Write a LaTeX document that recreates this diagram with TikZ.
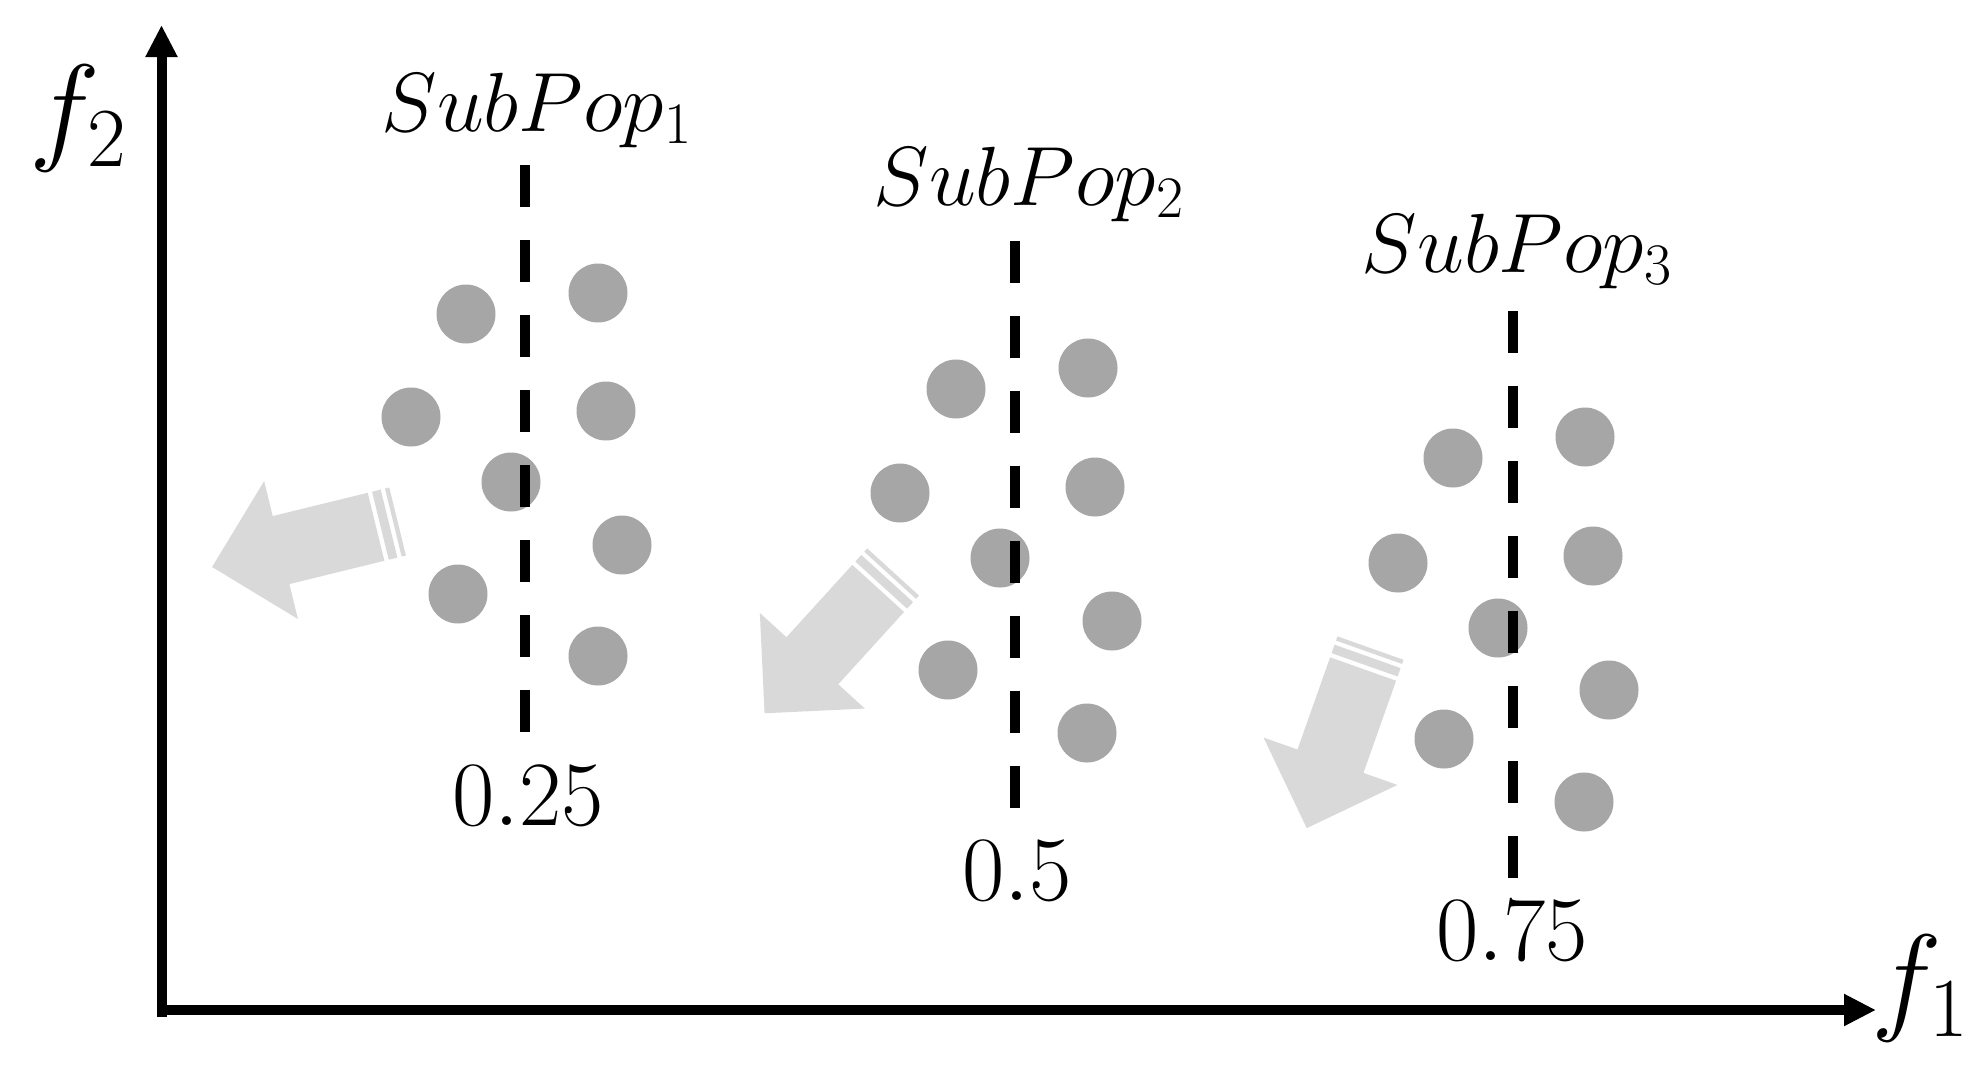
\documentclass[tikz,border=0pt]{standalone}
\usepackage{fix-cm}
\usetikzlibrary{arrows.meta}
\definecolor{dotgray}{HTML}{A6A6A6}
\definecolor{arrowgray}{HTML}{D9D9D9}
\tikzset{
  axisline/.style={line width=5pt, -{Triangle[length=16pt,width=15pt]}},
  divider/.style={line width=5pt, dash pattern=on 21pt off 16.5pt},
  popdot/.style={circle, fill=dotgray, minimum size=29.5pt, inner sep=0pt},
  poplabel/.style={font=\fontsize{42}{50}\selectfont, inner sep=0pt, anchor=base},
  ticklabel/.style={font=\fontsize{46}{54}\selectfont, inner sep=0pt, anchor=base},
  axislabel/.style={font=\fontsize{60}{70}\selectfont, inner sep=0pt},
  movearrow/.style={fill=arrowgray},
}
\newcommand\stripedarrow[3]{%
  \begin{scope}[shift={(#1,#2)},rotate=#3]
    \fill[movearrow] (0,-35) rectangle (4.4,35);
    \fill[movearrow] (8.8,-35) rectangle (17.7,35);
    \fill[movearrow] (22.2,-35) -- (120,-35) -- (120,-71) -- (191,0) -- (120,71) -- (120,35) -- (22.2,35) -- cycle;
  \end{scope}}
\begin{document}
\begin{tikzpicture}[x=0.5pt,y=-0.5pt]
\fill[white] (0,0) rectangle (1986,1077);
\useasboundingbox (0,0) rectangle (1986,1077);

% axes
\coordinate (origin) at (161.5,1017);
\coordinate (ytop) at (161.5,25);
\coordinate (xstart) at (156.5,1010);
\coordinate (xend) at (1876,1010);
\draw[axisline] (origin) -- (ytop);
\draw[axisline] (xstart) -- (xend);
\node[axislabel] (f2) at (78,118) {$f_2$};
\node[axislabel] (f1) at (1920,988) {$f_1$};

% moving arrows
\stripedarrow{397.6}{521.5}{193.77}
\stripedarrow{893.1}{572}{227.7}
\stripedarrow{1370.5}{648.1}{250.5}

% subpopulation 1
\node[popdot] (a1) at (466,314) {};
\node[popdot] (a2) at (598,293) {};
\node[popdot] (a3) at (411,417) {};
\node[popdot] (a4) at (606,411) {};
\node[popdot] (a5) at (511,482) {};
\node[popdot] (a6) at (622,545) {};
\node[popdot] (a7) at (458,594) {};
\node[popdot] (a8) at (598,656) {};

% subpopulation 2
\node[popdot] (b1) at (956,389) {};
\node[popdot] (b2) at (1088,368) {};
\node[popdot] (b3) at (900,493) {};
\node[popdot] (b4) at (1095,487) {};
\node[popdot] (b5) at (1000,558) {};
\node[popdot] (b6) at (1112,621) {};
\node[popdot] (b7) at (948,670) {};
\node[popdot] (b8) at (1087,733) {};

% subpopulation 3
\node[popdot] (c1) at (1453,458) {};
\node[popdot] (c2) at (1585,437) {};
\node[popdot] (c3) at (1398,563) {};
\node[popdot] (c4) at (1593,556) {};
\node[popdot] (c5) at (1498,628) {};
\node[popdot] (c6) at (1609,690) {};
\node[popdot] (c7) at (1444,739) {};
\node[popdot] (c8) at (1584,802) {};

% dividing lines
\coordinate (l1top) at (525,165);
\coordinate (l1bot) at (525,732);
\coordinate (l2top) at (1015,240.5);
\coordinate (l2bot) at (1015,807.5);
\coordinate (l3top) at (1513,311);
\coordinate (l3bot) at (1513,878);
\draw[divider] (l1top) -- (l1bot);
\draw[divider] (l2top) -- (l2bot);
\draw[divider] (l3top) -- (l3bot);

% labels
\node[poplabel] (s1) at (537,131) {$SubPop_1$};
\node[poplabel] (s2) at (1029,205) {$SubPop_2$};
\node[poplabel] (s3) at (1517,272) {$SubPop_3$};
\node[ticklabel] (t1) at (528,825) {$0.25$};
\node[ticklabel] (t2) at (1017,900) {$0.5$};
\node[ticklabel] (t3) at (1512,960) {$0.75$};
\end{tikzpicture}
\end{document}
